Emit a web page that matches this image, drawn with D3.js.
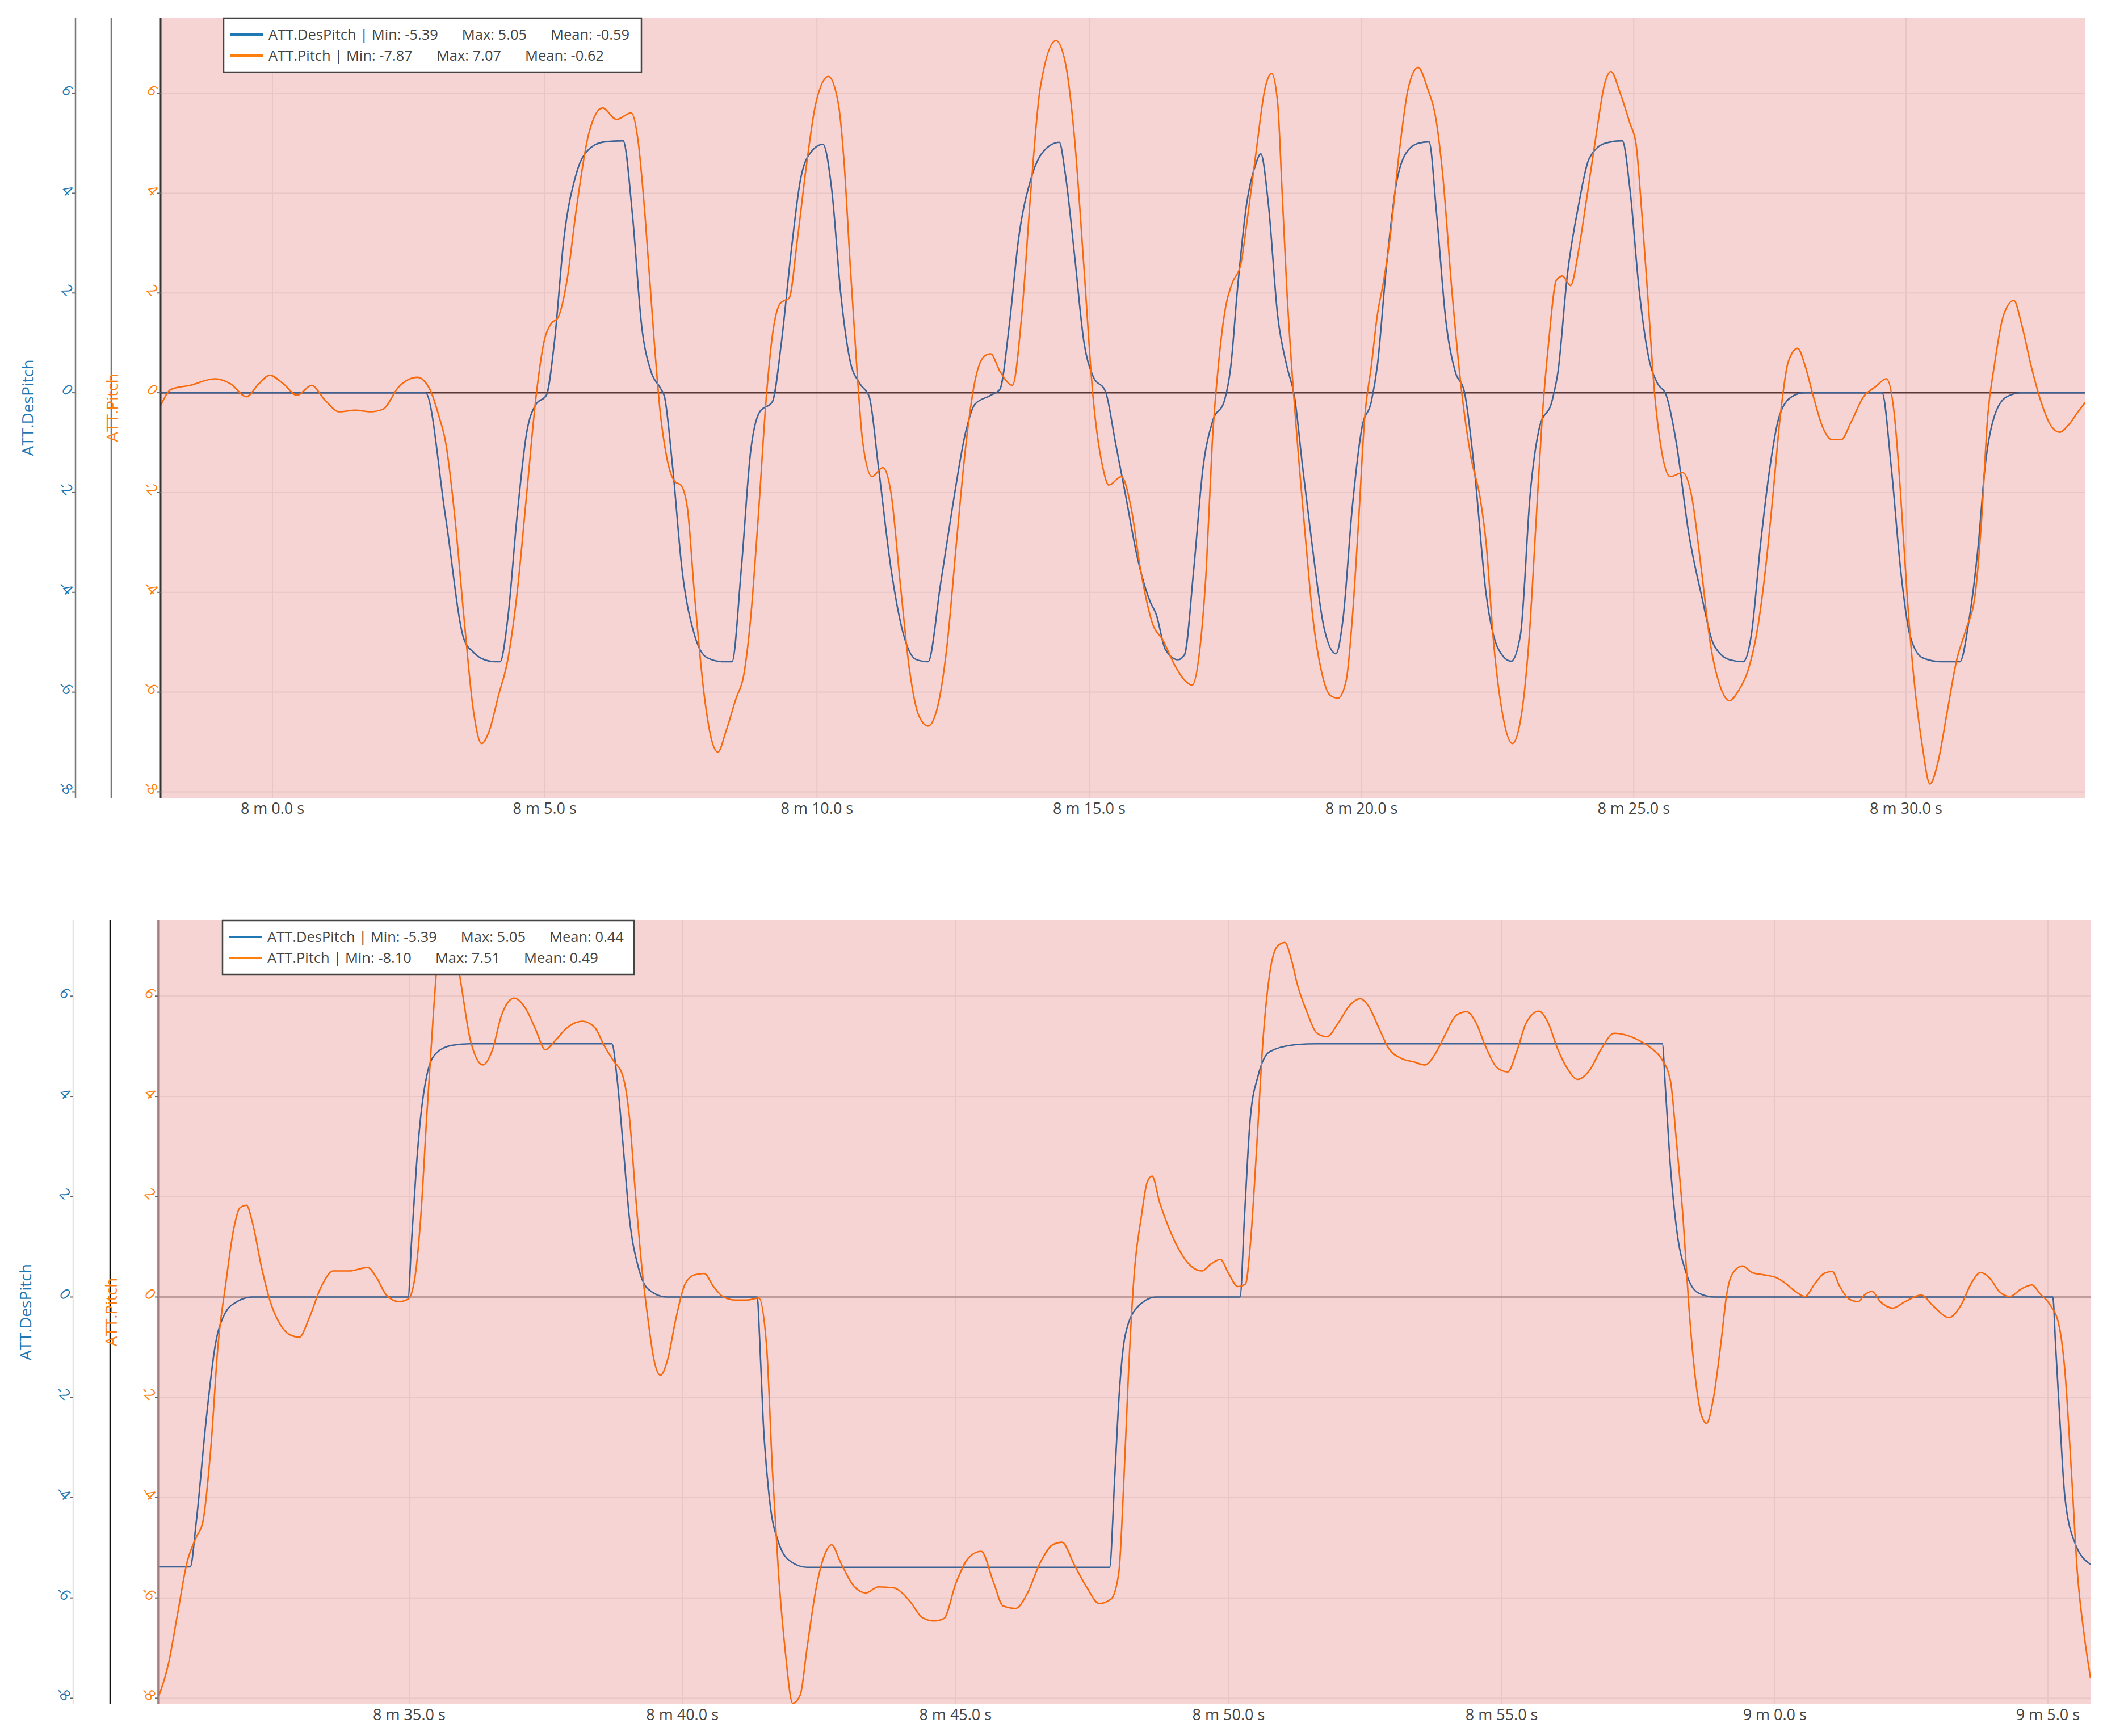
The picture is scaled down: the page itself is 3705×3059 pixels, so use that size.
<!DOCTYPE html>
<html>
<head>
<meta charset="utf-8">
<script src="https://cdn.jsdelivr.net/npm/d3@7"></script>
<style>
  body { margin: 0; background: #fff; }
  svg { display: block; font-family: "Open Sans", "DejaVu Sans", sans-serif; }
</style>
</head>
<body>
<div id="chart"></div>
<script>
// time in seconds since log start, value in degrees
var topDesPitch = [[477.95,0],[482.81,0],[483.18,-2.5],[483.52,-4.95],[483.69,-5.2],[483.85,-5.33],[484.09,-5.39],[484.18,-5.39],[484.32,-4.54],[484.49,-2.5],[484.67,-0.79],[484.84,-0.23],[485.03,-0.05],[485.18,1.04],[485.35,3.07],[485.58,4.39],[485.81,4.88],[486.10,5.03],[486.44,5.05],[486.61,3.58],[486.78,1.34],[486.95,0.43],[487.12,0.1],[487.20,-0.08],[487.35,-1.5],[487.52,-3.53],[487.75,-4.85],[487.98,-5.31],[488.27,-5.39],[488.44,-5.39],[488.61,-3.53],[488.78,-1.19],[488.95,-0.38],[489.18,-0.18],[489.35,1.04],[489.53,2.87],[489.70,4.29],[489.90,4.84],[490.11,4.98],[490.27,4.08],[490.44,1.95],[490.61,0.63],[490.79,0.18],[490.96,-0.08],[491.13,-1.5],[491.36,-3.53],[491.59,-4.85],[491.81,-5.34],[492.04,-5.39],[492.27,-3.83],[492.50,-2.21],[492.73,-0.79],[492.90,-0.23],[493.19,-0.05],[493.36,0.07],[493.53,1.34],[493.70,3.07],[493.93,4.29],[494.16,4.84],[494.45,5.02],[494.56,4.39],[494.73,2.76],[494.90,1.04],[495.07,0.33],[495.30,0.02],[495.48,-0.99],[495.66,-2.01],[495.89,-3.33],[496.12,-4.19],[496.23,-4.44],[496.40,-5.15],[496.63,-5.35],[496.75,-5.25],[496.92,-3.53],[497.09,-1.5],[497.26,-0.59],[497.49,-0.13],[497.60,0.53],[497.72,2.05],[497.89,3.78],[498.06,4.59],[498.15,4.79],[498.29,3.78],[498.46,1.55],[498.63,0.53],[498.77,-0.08],[498.92,-1.5],[499.09,-3.02],[499.32,-4.75],[499.53,-5.23],[499.66,-4.54],[499.83,-2.31],[500.01,-0.69],[500.18,-0.18],[500.29,0.53],[500.46,2.56],[500.64,4.19],[500.81,4.79],[501.04,5.0],[501.24,5.03],[501.38,3.58],[501.55,1.44],[501.72,0.43],[501.89,0.02],[502.07,-1.5],[502.29,-4.04],[502.52,-5.15],[502.75,-5.38],[502.92,-4.85],[503.10,-2.01],[503.27,-0.69],[503.50,-0.16],[503.61,0.43],[503.78,2.36],[503.99,3.78],[504.18,4.69],[504.47,5.0],[504.79,5.05],[504.93,4.08],[505.10,2.05],[505.27,0.73],[505.44,0.18],[505.59,-0.03],[505.78,-0.99],[506.01,-2.82],[506.24,-4.04],[506.47,-5.05],[506.76,-5.35],[507.01,-5.39],[507.16,-4.85],[507.33,-3.02],[507.50,-1.5],[507.67,-0.48],[507.90,-0.08],[508.13,0],[509.56,0],[509.73,-1.5],[509.90,-3.53],[510.07,-4.85],[510.30,-5.31],[510.65,-5.39],[510.99,-5.39],[511.16,-4.54],[511.33,-3.02],[511.45,-1.5],[511.62,-0.48],[511.85,-0.08],[512.13,0],[513.30,0]];

var topPitch = [[477.95,-0.25],[478.14,0.07],[478.49,0.15],[478.94,0.28],[479.23,0.18],[479.52,-0.08],[479.75,0.18],[479.95,0.35],[480.20,0.18],[480.45,-0.05],[480.72,0.15],[480.95,-0.13],[481.23,-0.38],[481.52,-0.35],[481.80,-0.38],[482.03,-0.33],[482.32,0.12],[482.66,0.31],[482.89,0.07],[483.06,-0.48],[483.18,-0.99],[483.35,-2.5],[483.52,-4.54],[483.69,-6.37],[483.84,-7.03],[483.98,-6.78],[484.15,-6.07],[484.32,-5.36],[484.49,-4.04],[484.67,-2.01],[484.84,-0.08],[484.99,1.04],[485.12,1.39],[485.24,1.5],[485.41,2.26],[485.58,3.68],[485.81,5.2],[486.06,5.71],[486.32,5.48],[486.59,5.61],[486.72,5.0],[486.84,3.58],[487.01,1.04],[487.12,-0.38],[487.24,-1.29],[487.39,-1.78],[487.50,-1.85],[487.62,-2.31],[487.75,-4.04],[487.93,-6.07],[488.07,-6.98],[488.18,-7.2],[488.33,-6.78],[488.50,-6.17],[488.67,-5.56],[488.78,-4.54],[488.92,-2.51],[489.07,-0.08],[489.18,1.14],[489.33,1.8],[489.49,1.9],[489.64,3.07],[489.81,4.59],[489.98,5.81],[490.21,6.34],[490.39,5.81],[490.50,4.59],[490.61,2.56],[490.73,0.53],[490.84,-0.99],[491.01,-1.68],[491.21,-1.5],[491.36,-2.01],[491.53,-3.83],[491.70,-5.56],[491.87,-6.47],[492.04,-6.68],[492.22,-6.27],[492.39,-5.05],[492.56,-3.02],[492.73,-1.09],[492.90,0.23],[493.07,0.73],[493.19,0.78],[493.36,0.43],[493.59,0.15],[493.76,1.55],[493.93,4.08],[494.10,6.11],[494.39,7.06],[494.56,6.62],[494.73,5.1],[494.90,2.56],[495.07,-0.08],[495.25,-1.5],[495.36,-1.85],[495.59,-1.68],[495.77,-2.31],[495.94,-3.53],[496.17,-4.65],[496.35,-4.95],[496.57,-5.46],[496.75,-5.76],[496.89,-5.86],[497.03,-5.15],[497.15,-3.53],[497.26,-0.99],[497.37,0.53],[497.51,1.75],[497.63,2.21],[497.78,2.56],[497.89,3.37],[498.06,4.79],[498.23,6.11],[498.35,6.4],[498.46,5.81],[498.54,4.08],[498.63,2.05],[498.75,0.02],[498.86,-1.5],[498.98,-3.02],[499.11,-4.54],[499.26,-5.56],[499.43,-6.07],[499.57,-6.12],[499.72,-5.76],[499.83,-4.54],[499.95,-2.51],[500.06,-0.48],[500.18,0.53],[500.29,1.55],[500.41,2.26],[500.52,3.07],[500.69,4.79],[500.86,6.11],[501.04,6.52],[501.21,6.11],[501.38,5.4],[501.49,4.39],[501.66,2.05],[501.84,0.02],[502.01,-1.29],[502.18,-2.11],[502.29,-3.02],[502.43,-5.05],[502.58,-6.37],[502.77,-7.03],[502.92,-6.57],[503.07,-5.05],[503.21,-2.51],[503.32,-0.48],[503.44,1.04],[503.58,2.26],[503.69,2.34],[503.84,2.15],[503.99,2.87],[504.12,3.78],[504.30,5.1],[504.47,6.21],[504.58,6.44],[504.75,6.01],[504.93,5.4],[505.04,5.0],[505.15,3.58],[505.27,1.75],[505.38,0.02],[505.50,-1.09],[505.67,-1.68],[505.90,-1.6],[506.07,-2.11],[506.24,-3.53],[506.41,-5.05],[506.58,-5.86],[506.76,-6.17],[506.93,-5.96],[507.10,-5.56],[507.27,-4.75],[507.42,-3.53],[507.56,-2.01],[507.69,-0.48],[507.84,0.63],[508.01,0.89],[508.15,0.53],[508.30,-0.08],[508.47,-0.69],[508.64,-0.94],[508.81,-0.94],[508.99,-0.59],[509.22,-0.08],[509.44,0.12],[509.64,0.28],[509.79,-0.48],[509.90,-2.01],[510.02,-4.04],[510.13,-5.56],[510.30,-7.08],[510.44,-7.84],[510.59,-7.39],[510.76,-6.37],[510.93,-5.36],[511.10,-4.75],[511.27,-4.04],[511.39,-2.51],[511.50,-0.48],[511.62,0.53],[511.79,1.55],[511.98,1.85],[512.13,1.34],[512.30,0.53],[512.48,-0.18],[512.65,-0.64],[512.82,-0.79],[512.99,-0.64],[513.16,-0.38],[513.30,-0.18]];

var bottomDesPitch = [[510.36,-5.38],[510.99,-5.38],[511.10,-4.49],[511.28,-2.47],[511.45,-0.95],[511.62,-0.34],[511.85,-0.09],[512.13,0],[514.98,0],[515.04,1.07],[515.13,2.59],[515.21,3.6],[515.32,4.41],[515.49,4.86],[515.78,5.02],[516.10,5.05],[518.71,5.05],[518.80,4.41],[518.91,3.09],[519.03,1.58],[519.20,0.57],[519.37,0.16],[519.71,0],[521.37,0],[521.42,-0.95],[521.48,-2.47],[521.59,-3.98],[521.76,-4.89],[521.99,-5.28],[522.28,-5.39],[527.82,-5.39],[527.92,-3.5],[528.00,-1.9],[528.11,-0.75],[528.34,-0.19],[528.68,0],[530.21,0],[530.29,1.58],[530.40,3.6],[530.54,4.41],[530.75,4.89],[531.21,5.03],[531.60,5.05],[537.94,5.05],[538.00,4.11],[538.09,2.59],[538.20,1.37],[538.38,0.47],[538.60,0.08],[538.89,0],[545.09,0],[545.14,-0.95],[545.22,-2.47],[545.31,-3.98],[545.49,-4.89],[545.78,-5.33]];

var bottomPitch = [[510.40,-8.0],[510.45,-7.85],[510.59,-7.32],[510.76,-6.31],[510.93,-5.3],[511.10,-4.79],[511.22,-4.49],[511.37,-2.97],[511.50,-0.95],[511.64,0.26],[511.79,1.38],[511.90,1.78],[512.02,1.83],[512.13,1.48],[512.30,0.57],[512.47,-0.14],[512.64,-0.55],[512.81,-0.75],[512.99,-0.8],[513.16,-0.44],[513.39,0.21],[513.61,0.52],[513.90,0.52],[514.24,0.59],[514.41,0.37],[514.58,0.04],[514.81,-0.09],[514.98,-0.04],[515.10,0.36],[515.21,1.58],[515.32,3.6],[515.44,5.62],[515.55,7.14],[515.63,7.51],[515.78,7.34],[515.95,6.23],[516.12,5.12],[516.35,4.63],[516.52,4.92],[516.69,5.62],[516.92,5.96],[517.15,5.72],[517.32,5.32],[517.49,4.93],[517.66,5.1],[517.89,5.37],[518.17,5.5],[518.40,5.37],[518.57,5.01],[518.74,4.71],[518.91,4.41],[519.03,3.6],[519.14,2.08],[519.26,0.57],[519.37,-0.44],[519.48,-1.25],[519.60,-1.56],[519.73,-1.25],[519.88,-0.44],[520.05,0.26],[520.22,0.44],[520.40,0.47],[520.57,0.21],[520.74,0.01],[520.97,-0.06],[521.19,-0.06],[521.40,-0.02],[521.54,-0.95],[521.65,-3.48],[521.76,-5.5],[521.88,-7.02],[522.02,-8.1],[522.16,-7.93],[522.28,-7.02],[522.45,-5.8],[522.62,-5.1],[522.73,-4.94],[522.90,-5.3],[523.13,-5.75],[523.36,-5.9],[523.59,-5.78],[523.87,-5.8],[524.16,-6.06],[524.39,-6.39],[524.61,-6.46],[524.79,-6.41],[525.01,-5.7],[525.24,-5.2],[525.47,-5.07],[525.70,-5.7],[525.87,-6.16],[526.10,-6.21],[526.32,-5.9],[526.55,-5.3],[526.78,-4.94],[526.95,-4.89],[527.18,-5.35],[527.41,-5.8],[527.63,-6.11],[527.85,-6.02],[527.99,-5.5],[528.09,-3.48],[528.17,-1.46],[528.28,0.57],[528.40,1.58],[528.51,2.29],[528.60,2.41],[528.74,1.88],[528.91,1.37],[529.08,0.97],[529.31,0.62],[529.51,0.52],[529.69,0.67],[529.85,0.75],[530.00,0.47],[530.17,0.21],[530.31,0.26],[530.40,1.07],[530.52,3.09],[530.63,5.12],[530.75,6.43],[530.89,6.99],[531.03,7.07],[531.15,6.73],[531.26,6.23],[531.44,5.67],[531.61,5.27],[531.80,5.19],[532.01,5.47],[532.22,5.82],[532.41,5.95],[532.58,5.77],[532.75,5.37],[532.93,4.96],[533.16,4.76],[533.39,4.69],[533.59,4.63],[533.79,4.86],[533.96,5.22],[534.17,5.62],[534.36,5.69],[534.53,5.47],[534.70,5.01],[534.93,4.56],[535.11,4.49],[535.28,4.91],[535.45,5.47],[535.68,5.7],[535.85,5.47],[536.02,4.96],[536.20,4.56],[536.39,4.34],[536.60,4.51],[536.83,4.96],[537.06,5.26],[537.29,5.22],[537.51,5.12],[537.74,4.96],[537.92,4.76],[538.09,4.31],[538.20,3.09],[538.32,1.58],[538.43,-0.24],[538.55,-1.66],[538.66,-2.37],[538.75,-2.52],[538.87,-2.06],[539.01,-0.95],[539.12,0.06],[539.26,0.52],[539.41,0.62],[539.58,0.49],[539.81,0.44],[540.04,0.38],[540.21,0.26],[540.38,0.11],[540.55,0.01],[540.73,0.26],[540.90,0.47],[541.05,0.51],[541.19,0.21],[541.36,-0.04],[541.53,-0.09],[541.64,0.04],[541.78,0.11],[541.93,-0.09],[542.16,-0.22],[542.39,-0.09],[542.68,0.04],[542.91,-0.19],[543.19,-0.41],[543.42,-0.14],[543.59,0.26],[543.77,0.49],[543.94,0.37],[544.11,0.11],[544.30,0.01],[544.51,0.16],[544.71,0.24],[544.86,0.06],[545.03,-0.14],[545.20,-0.55],[545.31,-1.46],[545.43,-3.48],[545.54,-5.5],[545.66,-6.71],[545.78,-7.6]];

var yTicks = [-8, -6, -4, -2, 0, 2, 4, 6];
var topTimeTicks = [480, 485, 490, 495, 500, 505, 510];
var bottomTimeTicks = [515, 520, 525, 530, 535, 540, 545];
var topLegend = [["ATT.DesPitch | Min: -5.39", "Max: 5.05", "Mean: -0.59"],
                 ["ATT.Pitch | Min: -7.87", "Max: 7.07", "Mean: -0.62"]];
var bottomLegend = [["ATT.DesPitch | Min: -5.39", "Max: 5.05", "Mean: 0.44"],
                    ["ATT.Pitch | Min: -8.10", "Max: 7.51", "Mean: 0.49"]];

var blue = "#1f77b4", orange = "#ff7f0e";
var width = 3705, height = 3059;

var svg = d3.select("#chart").append("svg")
  .attr("width", width)
  .attr("height", height);
svg.append("rect").attr("width", width).attr("height", height).attr("fill", "#fff");

var panels = [
  { left: 283, right: 3674, top: 31, bottom: 1406, domain: [477.946, 513.295],
    des: topDesPitch, pitch: topPitch, ticks: topTimeTicks, legend: topLegend,
    blueAxisX: 133, blueAxisColor: "#777", pitchAxisX: 196, pitchAxisColor: "#777",
    zeroColor: "#444", edgeColor: "#333", edgeWidth: 3, legendX: 394, legendY: 32, legendW: 736 },
  { left: 279, right: 3683, top: 1621, bottom: 3003, domain: [510.407, 545.78],
    des: bottomDesPitch, pitch: bottomPitch, ticks: bottomTimeTicks, legend: bottomLegend,
    blueAxisX: 129, blueAxisColor: "#e4e4e4", pitchAxisX: 194, pitchAxisColor: "#111",
    zeroColor: "#aaa", edgeColor: "#999", edgeWidth: 5, legendX: 392, legendY: 1622, legendW: 725 }
];

function timeLabel(s) {
  var m = Math.floor(s / 60);
  return m + " m " + (s - m * 60).toFixed(1) + " s";
}

panels.forEach(function (p, i) {
  var x = d3.scaleLinear().domain(p.domain).range([p.left, p.right]);
  var y = d3.scaleLinear().domain([-8.12, 7.52]).range([p.bottom, p.top]);
  var g = svg.append("g");

  g.append("clipPath").attr("id", "clip" + i)
    .append("rect")
    .attr("x", p.left).attr("y", p.top)
    .attr("width", p.right - p.left).attr("height", p.bottom - p.top);

  // grid
  g.selectAll(".vgrid").data(p.ticks).enter().append("line")
    .attr("x1", function (d) { return x(d); }).attr("x2", function (d) { return x(d); })
    .attr("y1", p.top).attr("y2", p.bottom)
    .attr("stroke", "#eee").attr("stroke-width", 2);
  g.selectAll(".hgrid").data(yTicks).enter().append("line")
    .attr("x1", p.left).attr("x2", p.right)
    .attr("y1", function (d) { return y(d); }).attr("y2", function (d) { return y(d); })
    .attr("stroke", "#eee").attr("stroke-width", 2);

  // zero line
  g.append("line")
    .attr("x1", p.left).attr("x2", p.right)
    .attr("y1", y(0)).attr("y2", y(0))
    .attr("stroke", p.zeroColor).attr("stroke-width", 2.5);

  var line = d3.line()
    .x(function (d) { return x(d[0]); })
    .y(function (d) { return y(d[1]); })
    .curve(d3.curveMonotoneX);

  var lines = g.append("g").attr("clip-path", "url(#clip" + i + ")");
  lines.append("path").datum(p.des)
    .attr("d", line).attr("fill", "none")
    .attr("stroke", blue).attr("stroke-width", 2.6);
  lines.append("path").datum(p.pitch)
    .attr("d", line).attr("fill", "none")
    .attr("stroke", orange).attr("stroke-width", 2.6);

  // plot edge
  g.append("line")
    .attr("x1", p.left).attr("x2", p.left)
    .attr("y1", p.top).attr("y2", p.bottom)
    .attr("stroke", p.edgeColor).attr("stroke-width", p.edgeWidth);

  // red highlight over the whole plot area
  g.append("rect")
    .attr("x", p.left).attr("y", p.top)
    .attr("width", p.right - p.left).attr("height", p.bottom - p.top)
    .attr("fill", "rgba(208,0,0,0.17)");

  // x axis labels
  g.selectAll(".xlab").data(p.ticks).enter().append("text")
    .attr("x", function (d) { return x(d); })
    .attr("y", p.bottom + 28)
    .attr("text-anchor", "middle")
    .attr("font-size", 27)
    .attr("fill", "#444")
    .text(timeLabel);

  // y axes
  [[p.blueAxisX, p.blueAxisColor, blue], [p.left, null, orange]].forEach(function (a) {
    if (a[1]) {
      g.append("line")
        .attr("x1", a[0]).attr("x2", a[0])
        .attr("y1", p.top).attr("y2", p.bottom)
        .attr("stroke", a[1]).attr("stroke-width", 2.5);
    }
    g.selectAll(null).data(yTicks).enter().append("line")
      .attr("x1", a[0] - 6).attr("x2", a[0])
      .attr("y1", function (d) { return y(d); }).attr("y2", function (d) { return y(d); })
      .attr("stroke", "#666").attr("stroke-width", 2);
    g.selectAll(null).data(yTicks).enter().append("text")
      .attr("transform", function (d) { return "translate(" + (a[0] - 9) + "," + y(d) + ") rotate(45)"; })
      .attr("text-anchor", "end")
      .attr("dy", "0.35em")
      .attr("font-size", 26)
      .attr("fill", a[2])
      .text(function (d) { return d; });
  });
  g.append("line")
    .attr("x1", p.pitchAxisX).attr("x2", p.pitchAxisX)
    .attr("y1", p.top).attr("y2", p.bottom)
    .attr("stroke", p.pitchAxisColor).attr("stroke-width", 2.5);

  // axis titles
  var midY = (p.top + p.bottom) / 2;
  g.append("text")
    .attr("transform", "translate(" + (p.blueAxisX - 84) + "," + midY + ") rotate(-90)")
    .attr("text-anchor", "middle").attr("dy", "0.35em")
    .attr("font-size", 28).attr("fill", blue)
    .text("ATT.DesPitch");
  g.append("text")
    .attr("transform", "translate(" + (p.pitchAxisX + 2) + "," + midY + ") rotate(-90)")
    .attr("text-anchor", "middle").attr("dy", "0.35em")
    .attr("font-size", 28).attr("fill", orange)
    .text("ATT.Pitch");

  // legend
  var lg = g.append("g").attr("transform", "translate(" + p.legendX + "," + p.legendY + ")");
  lg.append("rect")
    .attr("width", p.legendW).attr("height", 95)
    .attr("fill", "#fff").attr("stroke", "#444").attr("stroke-width", 2.5);
  var rows = lg.selectAll(".row").data(p.legend).enter().append("g")
    .attr("transform", function (d, j) { return "translate(0," + (29 + j * 37) + ")"; });
  rows.append("line")
    .attr("x1", 11).attr("x2", 69)
    .attr("stroke", function (d, j) { return j === 0 ? blue : orange; })
    .attr("stroke-width", 4);
  var txt = rows.append("text")
    .attr("x", 79).attr("dy", "0.35em")
    .attr("font-size", 25.5).attr("fill", "#444");
  txt.selectAll("tspan").data(function (d) { return d; }).enter().append("tspan")
    .attr("dx", function (d, k) { return k === 0 ? 0 : 42; })
    .text(function (d) { return d; });
});
</script>
</body>
</html>
